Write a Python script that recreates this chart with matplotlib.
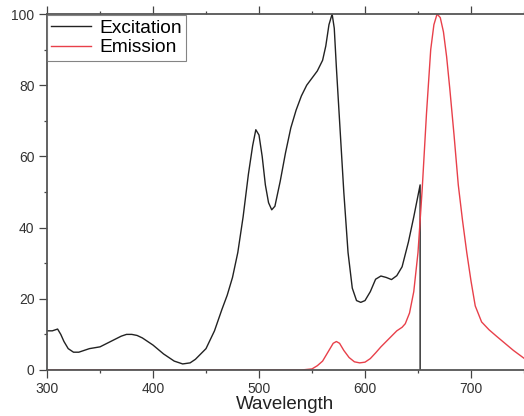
import matplotlib
matplotlib.use('Agg')
import matplotlib.pyplot as plt
from matplotlib.ticker import MultipleLocator

plt.rcParams['font.family'] = ['Liberation Sans', 'DejaVu Sans']

# excitation spectrum
ex_wl = [300, 305, 310, 313, 316, 320, 325, 330, 340, 350, 360, 370, 375, 380, 385, 390,
         400, 410, 420, 428, 435, 440, 450, 458, 465, 470, 475, 480, 485, 490, 494, 497,
         500, 503, 506, 509, 512, 515, 520, 525, 530, 535, 540, 545, 550, 555, 560, 563,
         566, 569, 571, 573, 576, 580, 584, 588, 592, 596, 600, 605, 610, 615, 620, 625,
         630, 635, 641, 646, 650, 652, 652.01]
ex_val = [11, 11, 11.5, 10, 8, 6, 5, 5, 6, 6.5, 8, 9.5, 10, 10, 9.7, 9,
          7, 4.5, 2.5, 1.7, 2, 3, 6, 11, 17, 21, 26, 33, 43, 55, 63, 67.5,
          66, 60, 52, 47, 45, 46, 53, 61, 68, 73, 77, 80, 82, 84, 87, 91,
          97, 100, 96, 85, 70, 50, 33, 23, 19.5, 19, 19.5, 22, 25.5, 26.4, 26, 25.4,
          26.5, 29, 36, 43, 49, 52, 0]

# emission spectrum
em_wl = [300, 350, 400, 450, 500, 540, 550, 555, 560, 565, 570, 573, 576, 580, 585, 590,
         595, 600, 605, 610, 615, 620, 625, 630, 635, 638, 642, 646, 650, 654, 658, 662,
         665, 668, 671, 674, 677, 680, 684, 688, 692, 696, 700, 704, 710, 717, 724, 732,
         740, 750]
em_val = [0, 0, 0, 0, 0, 0, 0.3, 1.2, 2.5, 5, 7.5, 8, 7.5, 5.5, 3.5, 2.3,
          2, 2.2, 3.2, 4.8, 6.5, 8, 9.5, 11, 12, 13, 16, 22, 33, 51, 72, 90,
          97, 100, 99, 95, 88, 79, 66, 52, 42, 33, 25, 18, 13.5, 11.3, 9.5, 7.5,
          5.5, 3.3]

fig = plt.figure(figsize=(5.24, 4.16), dpi=100)
ax = fig.add_axes([0.0897, 0.1106, 0.9103, 0.8557])

ax.plot(ex_wl, ex_val, color='#222222', lw=1.0, label='Excitation')
ax.plot(em_wl, em_val, color='#e8404a', lw=1.0, label='Emission')

ax.set_xlim(300, 750)
ax.set_ylim(0, 100)
ax.xaxis.set_major_locator(MultipleLocator(100))
ax.xaxis.set_minor_locator(MultipleLocator(50))
ax.yaxis.set_major_locator(MultipleLocator(20))
ax.yaxis.set_minor_locator(MultipleLocator(10))
ax.tick_params(which='both', direction='out', top=True, right=False,
               labelsize=10, colors='#444444', labelcolor='#333333')
ax.tick_params(which='major', length=5.5, width=0.9)
ax.tick_params(which='minor', length=2.5, width=0.9)
for side in ['left', 'bottom', 'top']:
    ax.spines[side].set_color('#555555')
    ax.spines[side].set_linewidth(1.3)
ax.spines['right'].set_visible(False)

ax.set_xlabel('Wavelength', fontsize=13.5, color='#222222', labelpad=0)

leg = ax.legend(loc='upper left', bbox_to_anchor=(0.0, 0.996), fontsize=13.8,
                frameon=True, fancybox=False, borderaxespad=0.0,
                handlelength=2.1, borderpad=0.22, labelspacing=0.1,
                handletextpad=0.4)
leg.get_frame().set_edgecolor('#666666')
leg.get_frame().set_linewidth(0.8)

fig.savefig('out.png', dpi=100)
